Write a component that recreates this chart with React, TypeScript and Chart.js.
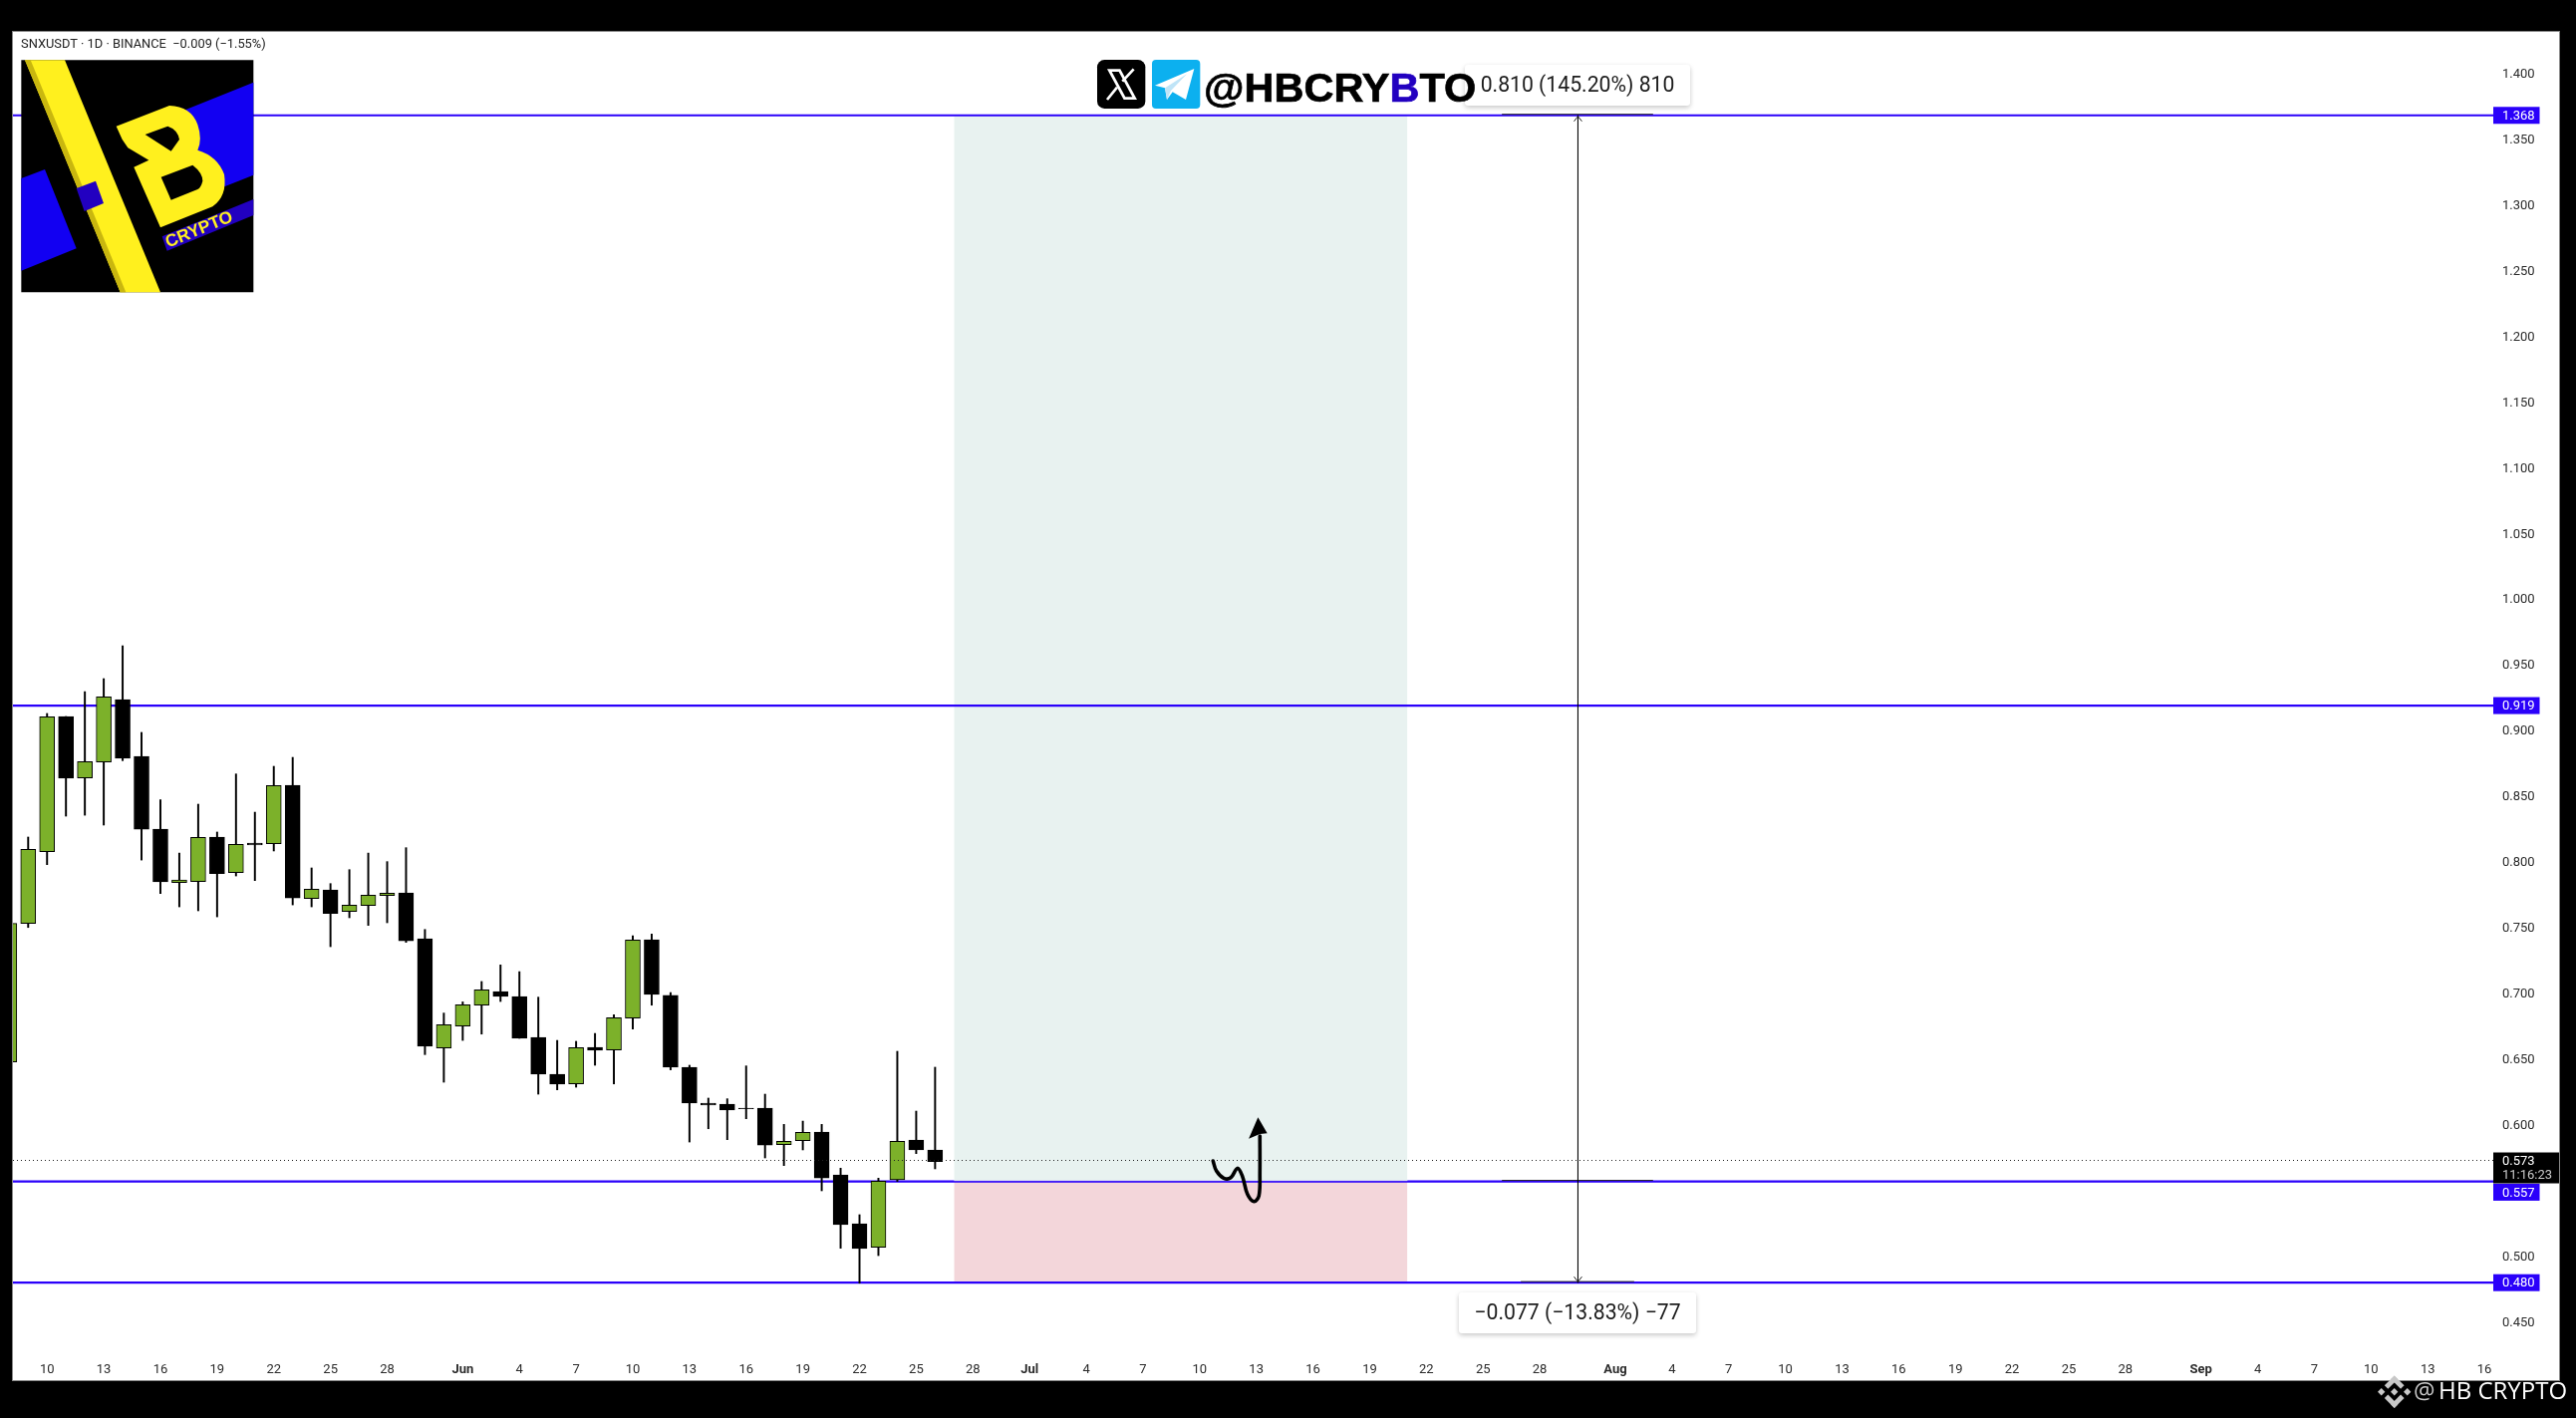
import React, { useEffect, useRef } from "react";
import { Chart, registerables } from "chart.js";

Chart.register(...registerables);

// Daily candles, May 8 (index 0) through Jun 26
const opens = [0.6479,0.7533,0.8079,0.9107,0.8639,0.8761,0.9236,0.8804,0.825,0.7844,0.7851,0.819,0.7919,0.8144,0.8139,0.8584,0.7722,0.7788,0.7624,0.7669,0.7745,0.7765,0.7417,0.6585,0.6752,0.6911,0.7015,0.6977,0.6666,0.6386,0.6312,0.659,0.657,0.6813,0.7409,0.6985,0.6439,0.6166,0.6158,0.6128,0.6128,0.585,0.588,0.5946,0.562,0.5249,0.5069,0.5582,0.5885,0.581];
const closes = [0.7533,0.8096,0.9104,0.8637,0.8763,0.9256,0.8789,0.825,0.7849,0.7864,0.8187,0.7912,0.8134,0.8129,0.8581,0.7727,0.7793,0.7609,0.7672,0.7748,0.7763,0.7401,0.6598,0.6762,0.6914,0.7028,0.6977,0.6659,0.6386,0.631,0.6588,0.6568,0.6815,0.7407,0.6992,0.6439,0.6166,0.6151,0.6113,0.6123,0.5847,0.5875,0.5943,0.5597,0.5241,0.5059,0.5572,0.5875,0.581,0.5721];
const highs = [0.7533,0.819,0.913,0.9107,0.9296,0.9395,0.9645,0.8986,0.8473,0.8068,0.844,0.8228,0.867,0.8379,0.8728,0.8796,0.7955,0.7836,0.7942,0.8068,0.8003,0.8109,0.7487,0.6851,0.6936,0.7091,0.7217,0.7166,0.6972,0.6643,0.6636,0.6696,0.6838,0.7439,0.7452,0.7007,0.6454,0.6204,0.6199,0.6449,0.6234,0.6004,0.6029,0.6004,0.5671,0.5317,0.5595,0.656,0.6105,0.6439];
const lows = [0.6479,0.7502,0.798,0.8349,0.8356,0.8281,0.8771,0.8015,0.776,0.7659,0.7629,0.7583,0.7894,0.7859,0.8084,0.7674,0.7659,0.7356,0.7576,0.7518,0.7538,0.7389,0.6535,0.6325,0.6643,0.6691,0.6939,0.6659,0.6234,0.6267,0.6287,0.6454,0.6312,0.6729,0.6911,0.6419,0.587,0.5971,0.5888,0.6047,0.5749,0.5691,0.581,0.5499,0.5062,0.4796,0.5006,0.557,0.5782,0.5666];

const yTicks = [0.45,0.5,0.6,0.65,0.7,0.75,0.8,0.85,0.9,0.95,1.0,1.05,1.1,1.15,1.2,1.25,1.3,1.35,1.4];
const yTickLabels = ["0.450","0.500","0.600","0.650","0.700","0.750","0.800","0.850","0.900","0.950","1.000","1.050","1.100","1.150","1.200","1.250","1.300","1.350","1.400"];
const xTickDays = [2,5,8,11,14,17,20,24,27,30,33,36,39,42,45,48,51,54,57,60,63,66,69,72,75,78,81,85,88,91,94,97,100,103,106,109,112,116,119,122,125,128,131];
const xTickLabels = ["10","13","16","19","22","25","28","Jun","4","7","10","13","16","19","22","25","28","Jul","4","7","10","13","16","19","22","25","28","Aug","4","7","10","13","16","19","22","25","28","Sep","4","7","10","13","16"];

const levels = [1.368, 0.919, 0.557, 0.48];
const levelLabels = ["1.368", "0.919", "0.557", "0.480"];
const lastPrice = 0.573;
const lastPriceLabel = "0.573";
const countdown = "11:16:23";
const titleText = "SNXUSDT · 1D · BINANCE  −0.009 (−1.55%)";
const upLabel = "0.810 (145.20%) 810";
const downLabel = "−0.077 (−13.83%) −77";

const boxDays = [50, 74];
const measureDay = 83.025;
const capWide = [79, 87];
const capNarrow = [80, 86];
const scribbleDays = [63.71,63.89,64.28,64.65,65.0,65.26,65.53,65.88,66.14,66.19,66.19];
const scribblePrices = [0.5726,0.565,0.5595,0.5599,0.567,0.5612,0.5474,0.5417,0.5461,0.5637,0.5916];
const headDays = [66.09,66.58,66.19,65.6];
const headPrices = [0.6058,0.5936,0.5931,0.5895];

const X_MIN = 0.195;
const X_MAX = 131.47;
const Y_MIN = 0.4286;
const Y_MAX = 1.4315;
const GREEN = "#7cb12a";
const BLUE = "#2a00fa";
const BOX_UP = "#e8f2f0";
const BOX_DOWN = "#f3d6da";
const FONT = "Roboto";

const flat = (y: number, a: number, b: number) => [{ x: a, y }, { x: b, y }];
const lineBase = { type: "line", pointRadius: 0, fill: false, tension: 0 };

function drawLogo(c: CanvasRenderingContext2D) {
  c.save();
  c.scale(1 / 3, 1 / 3);
  const poly = (pts: number[], color: string) => {
    c.fillStyle = color;
    c.beginPath();
    for (let i = 0; i < pts.length; i += 2) {
      if (i === 0) c.moveTo(pts[i], pts[i + 1]);
      else c.lineTo(pts[i], pts[i + 1]);
    }
    c.closePath();
    c.fill();
  };
  poly([64, 181, 763, 181, 763, 880, 64, 880], "#000");
  poly([64, 537, 135, 510, 230, 748, 64, 815], "#1200f2");
  poly([520, 346, 763, 248, 763, 527, 600, 592], "#1200f2");
  poly([75, 181, 195, 181, 483, 880, 362, 880], "#fff01e");
  poly([75, 181, 92, 181, 379, 880, 362, 880], "#c9b70f");
  poly([230, 567, 288, 545, 312, 612, 254, 636], "#2200c0");
  poly([488, 712, 763, 600, 763, 648, 503, 755], "#2200c0");
  c.fillStyle = "#fff01e";
  c.fill(new Path2D("M350,380 L510,318 Q575,320 595,375 Q610,420 595,452 Q655,470 675,525 Q685,590 640,622 L483,685 L403,503 L448,482 L385,445 L368,420 Z"));
  c.fillStyle = "#000";
  c.fill(new Path2D("M437,405 L505,380 Q535,390 540,420 L515,455 Z"));
  c.fill(new Path2D("M485,533 L580,497 Q610,520 610,545 Q605,565 595,570 L515,602 Z"));
  c.translate(600, 692);
  c.rotate(-0.39);
  c.fillStyle = "#fff01e";
  c.font = "bold 52px 'Liberation Sans'";
  c.textAlign = "center";
  c.textBaseline = "middle";
  c.fillText("CRYPTO", 0, 0);
  c.restore();
}

function drawIcons(c: CanvasRenderingContext2D) {
  c.save();
  c.translate(1095, 55);
  c.scale(1 / 3, 1 / 3);
  c.fillStyle = "#000";
  c.beginPath();
  c.roundRect(18, 15, 145, 147, 22);
  c.fill();
  c.fillStyle = "#fff";
  c.fill(new Path2D("M48,43 L88,43 L138,135 L98,135 Z"));
  c.fillStyle = "#000";
  c.fill(new Path2D("M62,51 L83,51 L124,127 L103,127 Z"));
  c.strokeStyle = "#fff";
  c.lineWidth = 8;
  c.beginPath();
  c.moveTo(128, 43);
  c.lineTo(94, 80);
  c.moveTo(78, 98);
  c.lineTo(48, 135);
  c.stroke();
  c.fillStyle = "#0cb0ef";
  c.beginPath();
  c.roundRect(183, 15, 145, 147, 12);
  c.fill();
  c.fillStyle = "#fff";
  c.fill(new Path2D("M192,92 L310,42 L285,135 L245,112 L228,135 L222,100 Z"));
  c.fillStyle = "#bfe4f7";
  c.fill(new Path2D("M222,100 L288,58 L240,108 L228,135 Z"));
  c.restore();
}

function drawBinance(c: CanvasRenderingContext2D) {
  c.save();
  c.translate(2402.7, 1396.7);
  c.rotate(Math.PI / 4);
  c.fillStyle = "#c8c8c8";
  const s = 5.2;
  c.fillRect(-s / 2, -s / 2, s, s);
  c.fillRect(-s / 2 - 9.2, -s / 2 + 9.2, s, s);
  c.fillRect(-s / 2 + 9.2, -s / 2 - 9.2, s, s);
  c.fillRect(-11.5, -11.5, 14, 5);
  c.fillRect(-11.5, -11.5, 5, 14);
  c.fillRect(-2.5, 6.5, 14, 5);
  c.fillRect(6.5, -2.5, 5, 14);
  c.restore();
}

const decorations = {
  id: "decorations",
  beforeDraw(chart: any) {
    const c: CanvasRenderingContext2D = chart.ctx;
    c.save();
    c.fillStyle = "#000";
    c.fillRect(0, 0, chart.width, chart.height);
    c.fillStyle = "#fff";
    c.fillRect(13, 32, 2555, 1353);
    c.strokeStyle = "#8a8a8a";
    c.lineWidth = 1;
    c.strokeRect(12.5, 31.5, 2556, 1354);
    c.restore();
  },
  afterDraw(chart: any) {
    const c: CanvasRenderingContext2D = chart.ctx;
    const xs = chart.scales.x;
    const ys = chart.scales.y;
    c.save();

    // arrow head of the hand-drawn path
    c.fillStyle = "#000";
    c.beginPath();
    headDays.forEach((d, i) => {
      const px = xs.getPixelForValue(d);
      const py = ys.getPixelForValue(headPrices[i]);
      if (i === 0) c.moveTo(px, py);
      else c.lineTo(px, py);
    });
    c.closePath();
    c.fill();

    // chevrons of the measuring line
    const mx = xs.getPixelForValue(measureDay);
    c.strokeStyle = "#222";
    c.lineWidth = 1;
    const top = ys.getPixelForValue(levels[0]);
    const bottom = ys.getPixelForValue(levels[3]);
    c.beginPath();
    c.moveTo(mx - 4, top + 6);
    c.lineTo(mx, top + 1);
    c.lineTo(mx + 4, top + 6);
    c.moveTo(mx - 4, bottom - 6);
    c.lineTo(mx, bottom - 1);
    c.lineTo(mx + 4, bottom - 6);
    c.stroke();

    // measuring labels
    const label = (text: string, x0: number, x1: number, y0: number, y1: number) => {
      c.save();
      c.shadowColor = "rgba(0,0,0,0.22)";
      c.shadowBlur = 5;
      c.shadowOffsetY = 2;
      c.fillStyle = "#fff";
      c.beginPath();
      c.roundRect(x0, y0, x1 - x0, y1 - y0, 3);
      c.fill();
      c.restore();
      c.fillStyle = "#1c1c1c";
      c.font = `21.2px ${FONT}`;
      c.textAlign = "center";
      c.textBaseline = "middle";
      c.fillText(text, (x0 + x1) / 2, (y0 + y1) / 2 + 1);
    };
    label(upLabel, 1470, 1696, 65, 106);
    label(downLabel, 1464, 1702, 1297, 1338);

    // logo, title
    drawLogo(c);
    c.fillStyle = "#222";
    c.font = `12.85px ${FONT}`;
    c.textAlign = "left";
    c.textBaseline = "middle";
    c.fillText(titleText, 21, 44.5);

    // social watermark
    drawIcons(c);
    c.font = "bold 41.5px 'Liberation Sans'";
    c.textBaseline = "alphabetic";
    c.lineWidth = 0.7;
    let wx = 1208;
    for (const [t, col] of [["@HBCRY", "#000"], ["B", "#2200c0"], ["TO", "#000"]]) {
      c.fillStyle = col;
      c.strokeStyle = col;
      c.fillText(t, wx, 101.5);
      c.strokeText(t, wx, 101.5);
      wx += c.measureText(t).width;
    }

    // price tags
    c.font = `13px ${FONT}`;
    c.textBaseline = "middle";
    const cy = ys.getPixelForValue(lastPrice);
    levels.forEach((v, i) => {
      const y = ys.getPixelForValue(v) + (i === 2 ? 10.8 : 0);
      c.fillStyle = BLUE;
      c.fillRect(2502, y - 8.5, 46.5, 17);
      c.fillStyle = "#fff";
      c.fillText(levelLabels[i], 2511, y + 1);
    });
    c.fillStyle = "#000";
    c.fillRect(2502, cy - 8, 66, 31);
    c.fillStyle = "#fff";
    c.fillText(lastPriceLabel, 2511, cy + 1);
    c.fillStyle = "#c9c9c9";
    c.fillText(countdown, 2511, cy + 15);

    // footer
    drawBinance(c);
    c.font = "24px 'Open Sans'";
    c.textAlign = "left";
    c.fillStyle = "#c8c8c8";
    c.fillText("@", 2422, 1397);
    c.fillStyle = "#fff";
    c.fillText("HB CRYPTO", 2447, 1397);
    c.restore();
  },
};

export default function App() {
  const ref = useRef<HTMLCanvasElement>(null);
  useEffect(() => {
    document.body.style.margin = "0";
    document.body.style.background = "#000";
    const up = closes.map((v, i) => v >= opens[i]);
    const chart = new Chart(ref.current as HTMLCanvasElement, {
      type: "bar",
      data: {
        datasets: [
          {
            ...lineBase,
            data: flat(levels[0], boxDays[0], boxDays[1]),
            borderWidth: 0,
            fill: { value: levels[2] },
            backgroundColor: BOX_UP,
            order: 60,
          },
          {
            ...lineBase,
            data: flat(levels[2], boxDays[0], boxDays[1]),
            borderWidth: 0,
            fill: { value: levels[3] },
            backgroundColor: BOX_DOWN,
            order: 59,
          },
          ...levels.map((v) => ({
            ...lineBase,
            data: flat(v, X_MIN, X_MAX),
            borderColor: BLUE,
            borderWidth: 2.2,
            order: 50,
          })),
          {
            ...lineBase,
            data: flat(levels[2] + 0.00075, boxDays[0], boxDays[1]),
            borderColor: BOX_UP,
            borderWidth: 1,
            order: 40,
          },
          {
            type: "bar",
            grouped: false,
            data: lows.map((l, i) => ({ x: i, y: [l, highs[i]] })),
            backgroundColor: "#000",
            barThickness: 1.3,
            order: 21,
          },
          {
            type: "bar",
            grouped: false,
            data: opens.map((o, i) => ({ x: i, y: [o, closes[i]] })),
            backgroundColor: up.map((u) => (u ? GREEN : "#000")),
            borderColor: "#000",
            borderWidth: 1,
            borderSkipped: false,
            barThickness: 15,
            order: 20,
          },
          {
            ...lineBase,
            data: flat(lastPrice, X_MIN, X_MAX),
            borderColor: "#222",
            borderWidth: 1,
            borderDash: [1, 3],
            order: 10,
          },
          {
            ...lineBase,
            data: [{ x: measureDay, y: levels[0] }, { x: measureDay, y: levels[3] }],
            borderColor: "#000",
            borderWidth: 1,
            order: 11,
          },
          {
            ...lineBase,
            data: flat(levels[0] + 0.0008, capWide[0], capWide[1]),
            borderColor: "#222",
            borderWidth: 1,
            order: 12,
          },
          {
            ...lineBase,
            data: flat(levels[2] + 0.0008, capWide[0], capWide[1]),
            borderColor: "#222",
            borderWidth: 1,
            order: 12,
          },
          {
            ...lineBase,
            data: flat(levels[3] + 0.0008, capNarrow[0], capNarrow[1]),
            borderColor: "#222",
            borderWidth: 1,
            order: 12,
          },
          {
            ...lineBase,
            data: scribbleDays.map((d, i) => ({ x: d, y: scribblePrices[i] })),
            borderColor: "#000",
            borderWidth: 3.6,
            tension: 0.35,
            borderCapStyle: "round",
            order: 5,
          },
        ],
      } as any,
      options: {
        responsive: false,
        animation: false,
        devicePixelRatio: 1,
        layout: {
          autoPadding: false,
          padding: { left: 13, top: 32, right: 17, bottom: 38 },
        },
        plugins: { legend: { display: false }, tooltip: { enabled: false } },
        scales: {
          x: {
            type: "linear",
            offset: false,
            min: X_MIN,
            max: X_MAX,
            grid: { display: false, drawTicks: false },
            border: { display: false },
            afterBuildTicks: (s: any) => {
              s.ticks = xTickDays.map((value) => ({ value }));
            },
            afterFit: (s: any) => {
              s.height = 30;
            },
            ticks: {
              autoSkip: false,
              maxRotation: 0,
              padding: 11.5,
              color: "#2b2b2b",
              font: (ctx: any) => {
                const lab = xTickLabels[xTickDays.indexOf(ctx.tick ? ctx.tick.value : -1)] || "";
                return { family: FONT, size: 13, weight: /^[A-Z]/.test(lab) ? "bold" : "normal" };
              },
              callback: (v: any) => xTickLabels[xTickDays.indexOf(v)],
            },
          },
          y: {
            type: "linear",
            position: "right",
            min: Y_MIN,
            max: Y_MAX,
            grid: { display: false, drawTicks: false },
            border: { display: false },
            afterBuildTicks: (s: any) => {
              s.ticks = yTicks.map((value) => ({ value }));
            },
            afterFit: (s: any) => {
              s.width = 66;
            },
            ticks: {
              autoSkip: false,
              padding: 9,
              labelOffset: 1,
              color: "#2b2b2b",
              font: { family: FONT, size: 13 },
              callback: (v: any) => yTickLabels[yTicks.indexOf(v)],
            },
          },
        },
      } as any,
      plugins: [decorations],
    } as any);
    return () => chart.destroy();
  }, []);
  return <canvas ref={ref} width={2585} height={1423} style={{ display: "block" }} />;
}
